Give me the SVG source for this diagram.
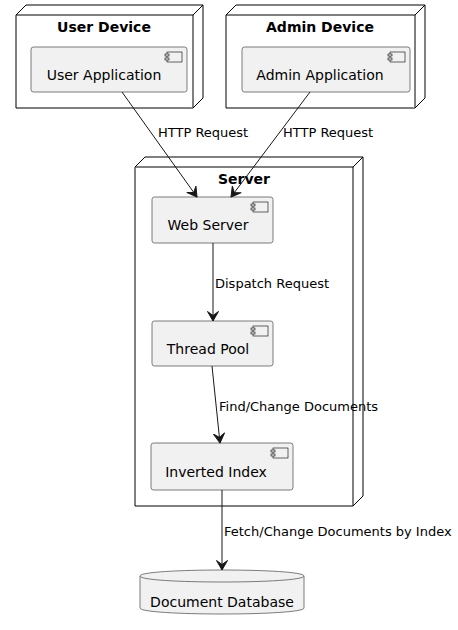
<svg xmlns="http://www.w3.org/2000/svg" width="458" height="630" viewBox="0 0 458 630">
<style>
.node{fill:#fff;stroke:#000;stroke-width:1}
.comp{fill:#f1f1f1;stroke:#5c5c5c;stroke-width:0.8}
.icon{fill:#f1f1f1;stroke:#000;stroke-width:0.6}
.title{font-family:"DejaVu Sans",sans-serif;font-size:14px;font-weight:bold;text-anchor:middle}
.lbl{font-family:"DejaVu Sans",sans-serif;font-size:14px;text-anchor:middle}
.elbl{font-family:"DejaVu Sans",sans-serif;font-size:13px}
.edge{stroke:#181818;stroke-width:1;fill:none}
</style>
<defs>
<marker id="ah" viewBox="0 0 11 12" refX="10" refY="6" markerWidth="11" markerHeight="12" markerUnits="userSpaceOnUse" orient="auto">
<path d="M0.5,0.5 L10,6 L0.5,11.5 L4.5,6 Z" fill="#181818" stroke="#181818" stroke-width="1" stroke-linejoin="round"/>
</marker>
</defs>
<g id="user-device">
<path class="node" d="M16,15 L26,5 L203,5 L203,98 L193,108 L16,108 Z"/>
<path class="node" d="M16,15 L193,15 L193,108 M193,15 L203,5"/>
<text class="title" x="104" y="32">User Device</text>
</g>
<g id="user-app">
<rect class="comp" x="31" y="47" width="156" height="45" rx="2.5"/>
<rect class="icon" x="167" y="52" width="15" height="10"/>
<rect class="icon" x="165" y="54" width="4" height="2"/>
<rect class="icon" x="165" y="58" width="4" height="2"/>
<text class="lbl" x="104" y="80">User Application</text>
</g>
<g id="admin-device">
<path class="node" d="M226,15 L236,5 L425,5 L425,98 L415,108 L226,108 Z"/>
<path class="node" d="M226,15 L415,15 L415,108 M415,15 L425,5"/>
<text class="title" x="320" y="32">Admin Device</text>
</g>
<g id="admin-app">
<rect class="comp" x="242" y="47" width="168" height="45" rx="2.5"/>
<rect class="icon" x="390" y="52" width="15" height="10"/>
<rect class="icon" x="388" y="54" width="4" height="2"/>
<rect class="icon" x="388" y="58" width="4" height="2"/>
<text class="lbl" x="320" y="80">Admin Application</text>
</g>
<g id="server">
<path class="node" d="M135,167 L145,157 L363,157 L363,496 L353,506 L135,506 Z"/>
<path class="node" d="M135,167 L353,167 L353,506 M353,167 L363,157"/>
<text class="title" x="244" y="184">Server</text>
</g>
<g id="web-server">
<rect class="comp" x="152" y="197" width="121" height="46" rx="2.5"/>
<rect class="icon" x="253" y="202" width="15" height="10"/>
<rect class="icon" x="251" y="204" width="4" height="2"/>
<rect class="icon" x="251" y="208" width="4" height="2"/>
<text class="lbl" x="208" y="230">Web Server</text>
</g>
<g id="thread-pool">
<rect class="comp" x="152" y="321" width="121" height="45" rx="2.5"/>
<rect class="icon" x="253" y="326" width="15" height="10"/>
<rect class="icon" x="251" y="328" width="4" height="2"/>
<rect class="icon" x="251" y="332" width="4" height="2"/>
<text class="lbl" x="208" y="354">Thread Pool</text>
</g>
<g id="inverted-index">
<rect class="comp" x="151" y="443" width="142" height="47" rx="2.5"/>
<rect class="icon" x="273" y="448" width="15" height="10"/>
<rect class="icon" x="271" y="450" width="4" height="2"/>
<rect class="icon" x="271" y="454" width="4" height="2"/>
<text class="lbl" x="216" y="477">Inverted Index</text>
</g>
<g id="document-database">
<path class="comp" d="M140,576 C140,568 304,568 304,576 L304,608 C304,616 140,616 140,608 Z"/>
<path class="comp" fill="none" d="M140,576 C140,584 304,584 304,576"/>
<text class="lbl" x="222" y="607">Document Database</text>
</g>
<g id="connectors">
<path class="edge" marker-end="url(#ah)" d="M122,92 L197,197"/>
<text class="elbl" x="158" y="137">HTTP Request</text>
<path class="edge" marker-end="url(#ah)" d="M310,92 L231,197"/>
<text class="elbl" x="283" y="137">HTTP Request</text>
<path class="edge" marker-end="url(#ah)" d="M213,243 L213,321"/>
<text class="elbl" x="215" y="288">Dispatch Request</text>
<path class="edge" marker-end="url(#ah)" d="M212,366 L220,443"/>
<text class="elbl" x="219" y="411">Find/Change Documents</text>
<path class="edge" marker-end="url(#ah)" d="M222,490 L222,570"/>
<text class="elbl" x="224" y="536">Fetch/Change Documents by Index</text>
</g>
</svg>
